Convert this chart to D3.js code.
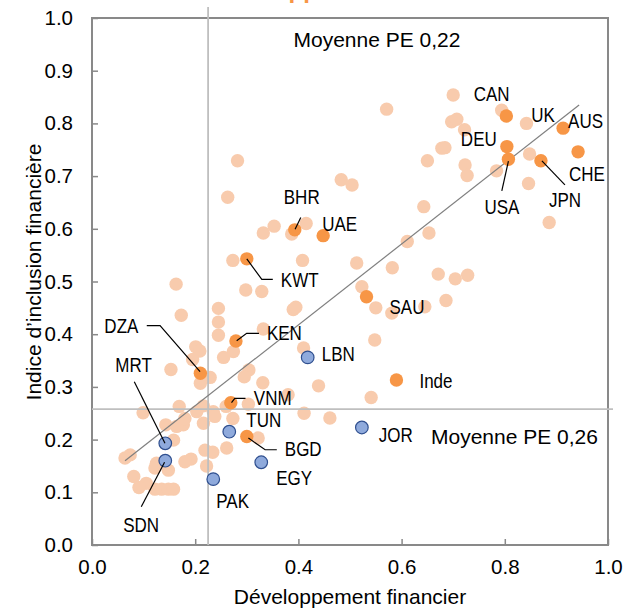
<!DOCTYPE html>
<html>
<head>
<meta charset="utf-8">
<script src="https://cdn.jsdelivr.net/npm/d3@7"></script>
<style>
  html, body { margin: 0; padding: 0; background: #fff; }
  svg { display: block; font-family: "Liberation Sans", Arial, sans-serif; }
</style>
</head>
<body>
<svg id="chart" width="636" height="613"></svg>
<script>
// ---------- DATA ----------
const xTicks = [0, 0.2, 0.4, 0.6, 0.8, 1.0];
const yTicks = [0, 0.1, 0.2, 0.3, 0.4, 0.5, 0.6, 0.7, 0.8, 0.9, 1.0];
const xLabel = "Développement financier";
const yLabel = "Indice d\u2019inclusion financière";
const titleText = "Développement financier et inclusion financière";

// Mean of emerging/developing economies (reference lines)
const meanFD = 0.225;
const meanFI = 0.258;
const meanFDLabel = "Moyenne PE 0,22";
const meanFILabel = "Moyenne PE 0,26";

// Fitted line endpoints [x, y]
const trendStart = [0.064, 0.160];
const trendEnd = [0.944, 0.835];

// Other (unlabelled) countries
const otherX = [0.700,0.571,0.842,0.697,0.707,0.722,0.678,0.684,0.848,0.650,0.723,0.727,0.784,0.483,0.504,0.846,0.643,0.886,0.611,0.653,0.513,0.582,0.671,0.704,0.728,0.523,0.550,0.581,0.645,0.686,0.548,0.541,0.461,0.282,0.263,0.332,0.353,0.387,0.415,0.273,0.408,0.163,0.298,0.329,0.245,0.173,0.245,0.245,0.390,0.395,0.332,0.201,0.209,0.274,0.255,0.410,0.195,0.153,0.229,0.210,0.304,0.295,0.331,0.439,0.380,0.303,0.260,0.169,0.216,0.235,0.099,0.216,0.273,0.411,0.177,0.164,0.143,0.158,0.322,0.261,0.219,0.234,0.074,0.064,0.192,0.180,0.125,0.122,0.148,0.222,0.081,0.105,0.091,0.122,0.135,0.148,0.158,0.203,0.238,0.180];
const otherY = [0.854,0.827,0.800,0.803,0.808,0.788,0.753,0.754,0.742,0.729,0.721,0.701,0.710,0.693,0.683,0.686,0.642,0.612,0.576,0.592,0.535,0.526,0.514,0.505,0.512,0.490,0.450,0.440,0.452,0.464,0.389,0.280,0.241,0.729,0.660,0.592,0.605,0.590,0.610,0.540,0.540,0.495,0.484,0.481,0.449,0.436,0.423,0.398,0.447,0.451,0.410,0.376,0.368,0.367,0.356,0.374,0.352,0.333,0.318,0.307,0.332,0.319,0.308,0.302,0.285,0.267,0.263,0.263,0.264,0.253,0.251,0.231,0.240,0.250,0.228,0.225,0.228,0.199,0.203,0.184,0.180,0.176,0.171,0.165,0.163,0.158,0.155,0.146,0.142,0.150,0.130,0.117,0.109,0.106,0.106,0.106,0.106,0.253,0.244,0.240];

// Labelled countries
const hiNames = ["CAN","UK","AUS","DEU","CHE","USA","JPN","BHR","UAE","KWT","SAU","KEN","DZA","Inde","VNM","BGD","LBN","JOR","TUN","MRT","SDN","EGY","PAK"];
const hiX = [0.794,0.803,0.913,0.804,0.942,0.807,0.870,0.393,0.448,0.300,0.532,0.279,0.210,0.590,0.269,0.300,0.418,0.523,0.266,0.142,0.142,0.328,0.235];
const hiY = [0.825,0.814,0.791,0.756,0.746,0.732,0.729,0.598,0.587,0.543,0.471,0.387,0.326,0.313,0.270,0.206,0.356,0.223,0.215,0.193,0.160,0.157,0.125];
const hiGroup = ["other","comp","comp","comp","comp","comp","comp","comp","comp","comp","comp","comp","comp","comp","comp","comp","mena","mena","mena","mena","mena","mena","mena"];

// ---------- LAYOUT (pixels) ----------
const W = 636, H = 613;
const plot = {left: 92, right: 608, top: 18, bottom: 545};
const colors = {other: "#F8CBAD", comp: "#F79646", mena: "#8FAADC", menaStroke: "#2F4F8F",
                axis: "#898989", ref: "#BFBFBF", trend: "#7F7F7F", text: "#000"};
// label offset from point centre (text start, baseline); leader polyline offsets
const labelLayout = {
  CAN: {dx: -28, dy: -9},
  UK:  {dx: 25, dy: 6},
  AUS: {dx: 5, dy: 0},
  DEU: {dx: -46, dy: -1},
  CHE: {dx: -9, dy: 29},
  USA: {dx: -24, dy: 55, leader: [[-6.6, 31.7], [0, 2]]},
  JPN: {dx: 8, dy: 46, leader: [[24, 24], [1, 0]]},
  BHR: {dx: -11, dy: -26, leader: [[6, -12.4], [0.3, -0.7]]},
  UAE: {dx: -1, dy: -5},
  KWT: {dx: 34, dy: 28, leader: [[0, 0], [15, 20.5], [26, 20.5]]},
  SAU: {dx: 23, dy: 17},
  KEN: {dx: 31, dy: -1, leader: [[0.7, -0.3], [10.7, -7.7], [23, -7.7]]},
  DZA: {dx: -96, dy: -40, leader: [[-53.6, -47.6], [-40.3, -47.6], [-0.3, -1.6]]},
  Inde:{dx: 23, dy: 8},
  VNM: {dx: 23, dy: 2.5, leader: [[0.7, 0], [4, -4.4], [14.7, -4.4]]},
  BGD: {dx: 38, dy: 20, leader: [[1.6, 1.6], [18.3, 13.3], [30, 13.3]]},
  LBN: {dx: 14, dy: 3.5},
  JOR: {dx: 17, dy: 14.5},
  TUN: {dx: 17, dy: -5},
  MRT: {dx: -50, dy: -71.5, leader: [[-31, -61.6], [-0.3, 0]]},
  SDN: {dx: -42, dy: 71, leader: [[-24, 46], [-0.7, 1.6]]},
  EGY: {dx: 15, dy: 23},
  PAK: {dx: 3, dy: 29}
};

const svg = d3.select("#chart");
const x = d3.scaleLinear().domain([0, 1]).range([plot.left, plot.right]);
const y = d3.scaleLinear().domain([0, 1]).range([plot.bottom, plot.top]);

// Title (cut off at the top of the frame, as in the source)
const title = svg.append("text")
  .attr("y", -2)
  .attr("font-size", 24).attr("font-weight", "bold")
  .attr("fill", colors.comp)
  .text(titleText);
{
  const idx = titleText.indexOf("pp");
  const pre = title.node().getSubStringLength(0, idx);
  title.attr("x", 288.5 - pre);
}

// Axes
const xAxis = d3.axisBottom(x).tickValues(xTicks).tickSize(-6).tickPadding(14).tickFormat(d3.format(".1f"));
const yAxis = d3.axisLeft(y).tickValues(yTicks).tickSize(-6).tickPadding(19).tickFormat(d3.format(".1f"));

const gx = svg.append("g").attr("transform", `translate(0,${plot.bottom})`).call(xAxis);
const gy = svg.append("g").attr("transform", `translate(${plot.left},0)`).call(yAxis);
[gx, gy].forEach(g => {
  g.select(".domain").remove();
  g.selectAll(".tick line").attr("stroke", colors.axis).attr("stroke-width", 1.5);
  g.selectAll(".tick text").attr("font-size", 20.5).attr("fill", colors.text)
    .attr("font-family", "'Liberation Sans', Arial, sans-serif");
});
gx.selectAll(".tick text").attr("dy", "0.71em");

// Plot frame
svg.append("rect")
  .attr("x", plot.left).attr("y", plot.top)
  .attr("width", plot.right - plot.left).attr("height", plot.bottom - plot.top)
  .attr("fill", "none").attr("stroke", colors.axis).attr("stroke-width", 2);

// Other countries
svg.append("g").selectAll("circle")
  .data(otherX.map((v, i) => [v, otherY[i]]))
  .join("circle")
  .attr("cx", d => x(d[0])).attr("cy", d => y(d[1]))
  .attr("r", 6.7).attr("fill", colors.other);

// Reference lines
svg.append("line")
  .attr("x1", x(meanFD)).attr("x2", x(meanFD))
  .attr("y1", plot.top - 11).attr("y2", plot.bottom)
  .attr("stroke", colors.ref).attr("stroke-width", 1.8);
svg.append("line")
  .attr("x1", plot.left).attr("x2", plot.right + 5)
  .attr("y1", y(meanFI)).attr("y2", y(meanFI))
  .attr("stroke", colors.ref).attr("stroke-width", 1.8);

// Trend line
svg.append("line")
  .attr("x1", x(trendStart[0])).attr("y1", y(trendStart[1]))
  .attr("x2", x(trendEnd[0])).attr("y2", y(trendEnd[1]))
  .attr("stroke", colors.trend).attr("stroke-width", 1.2);

// Labelled points
const hi = hiNames.map((n, i) => ({name: n, x: hiX[i], y: hiY[i], g: hiGroup[i]}));
svg.append("g").selectAll("circle")
  .data(hi)
  .join("circle")
  .attr("cx", d => x(d.x)).attr("cy", d => y(d.y))
  .attr("r", d => d.g === "mena" ? 6.3 : 6.7)
  .attr("fill", d => colors[d.g])
  .attr("stroke", d => d.g === "mena" ? colors.menaStroke : "none")
  .attr("stroke-width", 1.2);

// Leader lines
const lineGen = d3.line();
svg.append("g").selectAll("path")
  .data(hi.filter(d => labelLayout[d.name] && labelLayout[d.name].leader))
  .join("path")
  .attr("d", d => lineGen(labelLayout[d.name].leader.map(p => [x(d.x) + p[0], y(d.y) + p[1]])))
  .attr("fill", "none").attr("stroke", "#000").attr("stroke-width", 1.2);

// Country labels (narrow)
svg.append("g").selectAll("text")
  .data(hi)
  .join("text")
  .attr("transform", d => {
    const L = labelLayout[d.name];
    return `translate(${x(d.x) + L.dx},${y(d.y) + L.dy}) scale(0.85,1)`;
  })
  .attr("font-size", 20).attr("fill", colors.text)
  .text(d => d.name);

// Mean labels
svg.append("text").attr("x", 293.5).attr("y", 46.5)
  .attr("font-size", 21).attr("fill", colors.text).text(meanFDLabel);
svg.append("text").attr("x", 431).attr("y", 443.5)
  .attr("font-size", 21).attr("fill", colors.text).text(meanFILabel);

// Axis titles
svg.append("text")
  .attr("x", (plot.left + plot.right) / 2).attr("y", 604)
  .attr("text-anchor", "middle").attr("font-size", 21).attr("fill", colors.text)
  .text(xLabel);
svg.append("text")
  .attr("transform", `translate(41,${272}) rotate(-90)`)
  .attr("text-anchor", "middle").attr("font-size", 21).attr("fill", colors.text)
  .text(yLabel);
</script>
</body>
</html>
